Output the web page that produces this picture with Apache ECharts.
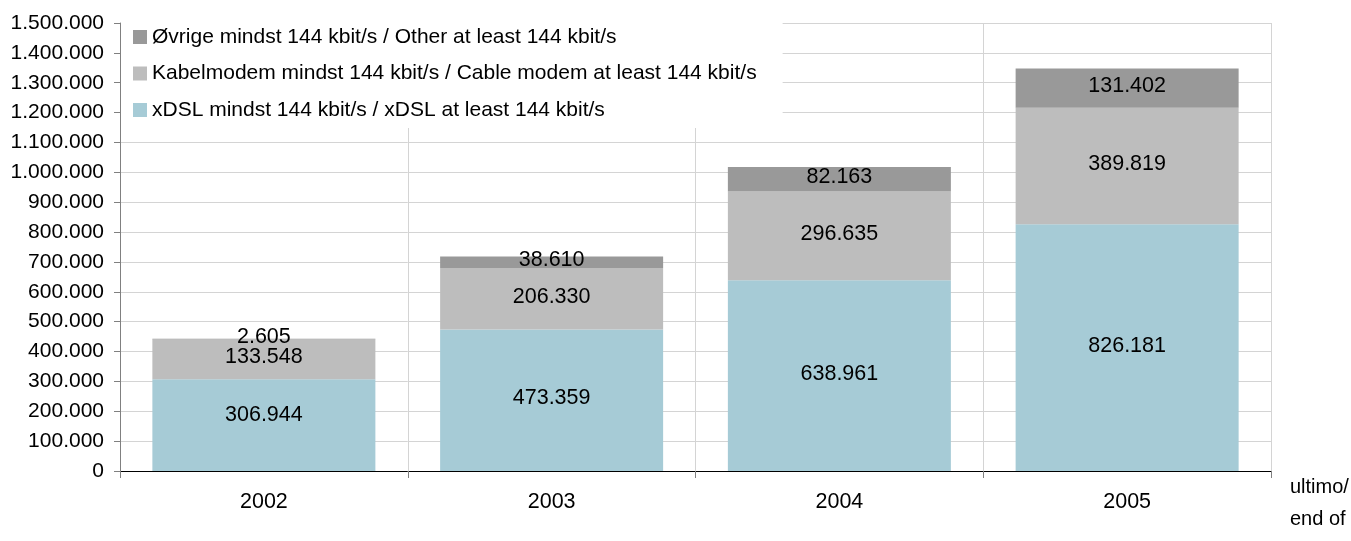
<!DOCTYPE html>
<html>
<head>
<meta charset="utf-8">
<script src="https://cdn.jsdelivr.net/npm/echarts@6/dist/echarts.min.js"></script>
<style>
html,body{margin:0;padding:0;background:#fff;}
#chart{width:1351px;height:541px;}
</style>
</head>
<body>
<div id="chart"></div>
<script>
const categories = ['2002', '2003', '2004', '2005'];
const xdslValues = [306944, 473359, 638961, 826181];
const cableValues = [133548, 206330, 296635, 389819];
const otherValues = [2605, 38610, 82163, 131402];
const seriesNames = [
  'xDSL mindst 144 kbit/s / xDSL at least 144 kbit/s',
  'Kabelmodem mindst 144 kbit/s / Cable modem at least 144 kbit/s',
  'Øvrige mindst 144 kbit/s / Other at least 144 kbit/s'
];
const seriesColors = ['#a6cbd6', '#bdbdbd', '#999999'];

const FONT = 'Liberation Sans, Arial, sans-serif';
const FS = 21.5;
function fmt(v) {
  return String(Math.round(v)).replace(/\B(?=(\d{3})+(?!\d))/g, '.');
}

const dataSets = [xdslValues, cableValues, otherValues];
const series = dataSets.map((d, i) => ({
  name: seriesNames[i],
  type: 'bar',
  stack: 'total',
  data: d.map((v, j) => (i === 0 && j === 0)
    ? { value: v, label: { offset: [0, -10] } }
    : v),
  barWidth: '77.5%',
  itemStyle: { color: seriesColors[i] },
  label: {
    show: true,
    position: 'inside',
    color: '#000',
    fontFamily: FONT,
    fontSize: FS,
    offset: [0, -2],
    formatter: p => fmt(p.value)
  },
  emphasis: { disabled: true }
}));

const chart = echarts.init(document.getElementById('chart'));
chart.setOption({
  animation: false,
  backgroundColor: '#fff',
  grid: { left: 120, right: 80, top: 23, bottom: 70, containLabel: false, outerBoundsMode: 'none' },
  legend: {
    orient: 'vertical',
    left: 121,
    top: 21,
    padding: [5, 26, 7, 12],
    backgroundColor: '#fff',
    itemWidth: 14,
    itemHeight: 14,
    itemGap: 14.5,
    icon: 'rect',
    data: [seriesNames[2], seriesNames[1], seriesNames[0]],
    textStyle: { color: '#000', fontFamily: FONT, fontSize: 21, lineHeight: 22 },
    selectedMode: false
  },
  xAxis: {
    type: 'category',
    data: categories,
    boundaryGap: true,
    name: 'ultimo/\nend of',
    nameLocation: 'end',
    nameGap: 19,
    nameTextStyle: {
      color: '#000', fontFamily: FONT, fontSize: 20,
      align: 'left', verticalAlign: 'top', lineHeight: 32
    },
    axisLine: { show: true, lineStyle: { color: '#000', width: 1 } },
    axisTick: { show: true, alignWithLabel: false, length: 7, lineStyle: { color: '#808080' } },
    axisLabel: { color: '#000', fontFamily: FONT, fontSize: FS, margin: 20 },
    splitLine: { show: true, interval: 0, lineStyle: { color: '#d4d4d4', width: 1 } }
  },
  yAxis: {
    type: 'value',
    min: 0,
    max: 1500000,
    interval: 100000,
    axisLine: { show: true, lineStyle: { color: '#808080', width: 1 } },
    axisTick: { show: true, length: 6, lineStyle: { color: '#808080' } },
    axisLabel: { color: '#000', fontFamily: FONT, fontSize: 21, margin: 16, formatter: v => fmt(v) },
    splitLine: { show: true, lineStyle: { color: '#d4d4d4', width: 1 } }
  },
  series: series
});
</script>
</body>
</html>
